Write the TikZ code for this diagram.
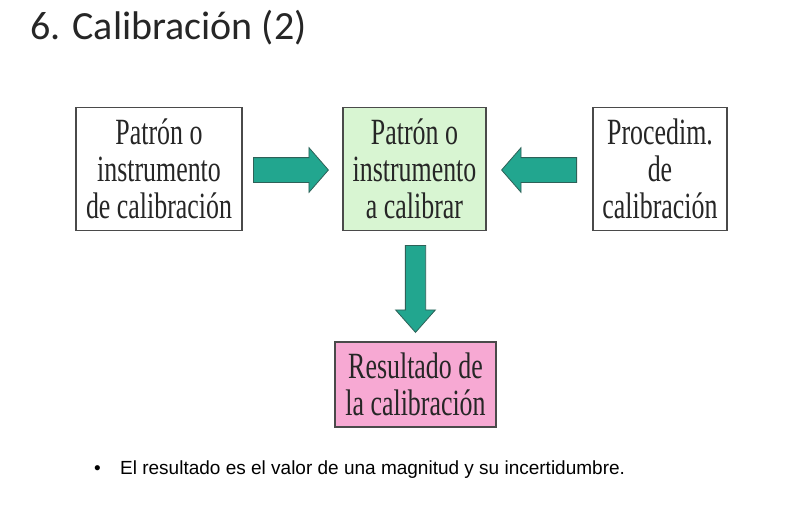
\documentclass[tikz,border=0pt]{standalone}
\usepackage{fontspec}
\usetikzlibrary{shapes.arrows}
\setmainfont{Liberation Serif}
\newfontfamily\titlefont{Carlito}
\newfontfamily\boxfont[FakeStretch=0.70]{Liberation Serif}
\newfontfamily\notefont{Liberation Sans}
\definecolor{BoxGreen}{HTML}{D8F5D2}
\definecolor{BoxPink}{HTML}{F7A9D3}
\definecolor{ArrowTeal}{HTML}{22A68F}
\definecolor{ArrowEdge}{HTML}{2E6158}
\definecolor{BoxEdge}{HTML}{4A4A4A}

\begin{document}
\begin{tikzpicture}[x=1pt, y=-1pt,
        box/.style={draw=BoxEdge, line width=1.2pt, align=center, inner sep=0pt,
            font=\boxfont\fontsize{37}{37}\selectfont, text=black!85},
        flecha/.style={single arrow, draw=ArrowEdge, fill=ArrowTeal, line width=0.8pt}]
        \useasboundingbox (0,0) rectangle (787,527);
        % titulo
        \node[anchor=base west, inner sep=0pt, text=black!85,
            font=\titlefont\fontsize{40}{46}\selectfont] (titulo) at (30,40) {6. Calibración (2)};
        % cajas
        \node[box, fill=white, minimum width=166pt, minimum height=123pt] (patron) at (159,169)
            {Patrón o\\instrumento\\de calibración};
        \node[box, fill=BoxGreen, minimum width=143pt, minimum height=123pt] (calibrar) at (414.5,169)
            {Patrón o\\instrumento\\a calibrar};
        \node[box, fill=white, minimum width=134pt, minimum height=123pt] (proced) at (660,169)
            {Procedim.\\de\\calibración};
        \node[box, fill=BoxPink, minimum width=161pt, minimum height=85pt] (resultado) at (415.5,384.5)
            {Resultado de\\la calibración};
        % flechas
        \node[flecha, anchor=tail, inner sep=12pt, single arrow head extend=10pt, minimum height=75pt,
            single arrow tip angle=98] (f1) at (253,170) {};
        \node[flecha, anchor=tail, inner sep=12pt, single arrow head extend=10pt, minimum height=75pt,
            single arrow tip angle=98, shape border rotate=180] (f2) at (577,170) {};
        \node[flecha, anchor=tail, inner sep=9.75pt, single arrow head extend=9.75pt, minimum height=87pt,
            single arrow tip angle=83, shape border rotate=270] (f3) at (415.5,245) {};
        % nota
        \node[anchor=base west, inner sep=0pt, font=\notefont\fontsize{19}{23}\selectfont] (vineta) at (94,474) {•};
        \node[anchor=base west, inner sep=0pt, font=\notefont\fontsize{19}{23}\selectfont] (nota) at (120,474)
            {El resultado es el valor de una magnitud y su incertidumbre.};
    \end{tikzpicture}
\end{document}
